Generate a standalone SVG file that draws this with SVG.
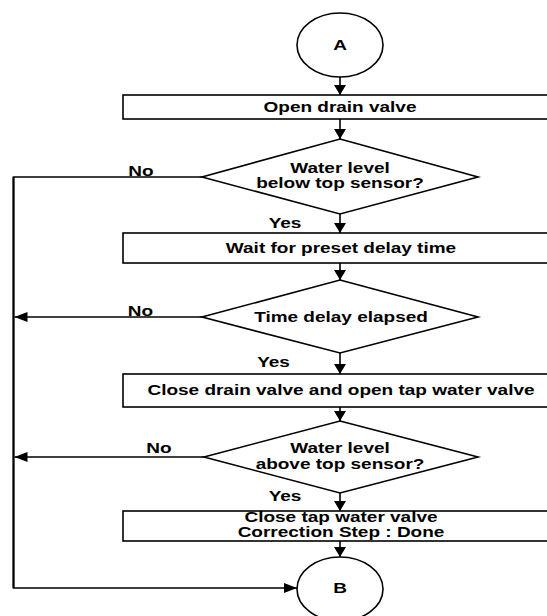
<svg xmlns="http://www.w3.org/2000/svg" width="547" height="616" viewBox="0 0 547 616">
<style>
.shape{fill:#fff;stroke:#000;stroke-width:1.6}
.conn{fill:none;stroke:#000;stroke-width:1.6}
.t{font-family:"Liberation Sans",Arial,sans-serif;font-weight:bold;font-size:14px;fill:#000;text-anchor:middle}
</style>
<defs>
<marker id="av" markerUnits="userSpaceOnUse" markerWidth="12" markerHeight="12" viewBox="0 -6 10 12" refX="10" refY="0" orient="auto">
<path d="M0,-6 L10,0 L0,6 Z" fill="#000"/>
</marker>
<marker id="ah" markerUnits="userSpaceOnUse" markerWidth="14" markerHeight="10" viewBox="0 -5 13 10" refX="13" refY="0" orient="auto">
<path d="M0,-5 L13,0 L0,5 Z" fill="#000"/>
</marker>
</defs>
<rect width="547" height="616" fill="#fff"/>
<g id="connectors">
<line class="conn" x1="340" y1="77" x2="340" y2="95" marker-end="url(#av)"/>
<line class="conn" x1="340" y1="119" x2="340" y2="139" marker-end="url(#av)"/>
<line class="conn" x1="340" y1="214" x2="340" y2="233" marker-end="url(#av)"/>
<line class="conn" x1="340" y1="263" x2="340" y2="280" marker-end="url(#av)"/>
<line class="conn" x1="340" y1="353" x2="340" y2="374" marker-end="url(#av)"/>
<line class="conn" x1="340" y1="407" x2="340" y2="421" marker-end="url(#av)"/>
<line class="conn" x1="340" y1="493" x2="340" y2="511" marker-end="url(#av)"/>
<line class="conn" x1="340" y1="541" x2="340" y2="557" marker-end="url(#av)"/>
<path class="conn" d="M202,177 L13.5,177 L13.5,588 L297,588" marker-end="url(#ah)"/>
<line class="conn" x1="202" y1="317" x2="14.5" y2="317" marker-end="url(#ah)"/>
<line class="conn" x1="204" y1="457" x2="14.5" y2="457" marker-end="url(#ah)"/>
<line x1="13.5" y1="177" x2="13.5" y2="588" stroke="#000" stroke-width="2"/>
<text class="t" transform="translate(141 175.5) scale(1.357 1)">No</text>
<text class="t" transform="translate(140.5 315.5) scale(1.357 1)">No</text>
<text class="t" transform="translate(159 452.5) scale(1.357 1)">No</text>
<text class="t" transform="translate(285 227.5) scale(1.357 1)">Yes</text>
<text class="t" transform="translate(273.5 367) scale(1.357 1)">Yes</text>
<text class="t" transform="translate(285 501) scale(1.357 1)">Yes</text>
</g>
<g id="startA">
<ellipse class="shape" cx="340" cy="45" rx="43" ry="32"/>
<text class="t" transform="translate(340 50) scale(1.357 1)">A</text>
</g>
<g id="openDrain">
<rect class="shape" x="123" y="95" width="440" height="24"/>
<text class="t" transform="translate(340 112) scale(1.357 1)">Open drain valve</text>
</g>
<g id="decision1">
<polygon class="shape" points="340,139 478,177 340,214 202,177"/>
<text class="t" transform="translate(340 173) scale(1.357 1)"><tspan x="0" y="0">Water level</tspan><tspan x="0" y="15">below top sensor?</tspan></text>
</g>
<g id="waitDelay">
<rect class="shape" x="123" y="233" width="440" height="30"/>
<text class="t" transform="translate(341 252.5) scale(1.357 1)">Wait for preset delay time</text>
</g>
<g id="decision2">
<polygon class="shape" points="340,280 478,317 340,353 202,317"/>
<text class="t" transform="translate(341 321.5) scale(1.357 1)">Time delay elapsed</text>
</g>
<g id="closeDrain">
<rect class="shape" x="123" y="374" width="440" height="33"/>
<text class="t" transform="translate(341 394.5) scale(1.357 1)">Close drain valve and open tap water valve</text>
</g>
<g id="decision3">
<polygon class="shape" points="340,421 478,457 340,493 204,457"/>
<text class="t" transform="translate(340 453) scale(1.357 1)"><tspan x="0" y="0">Water level</tspan><tspan x="0" y="16">above top sensor?</tspan></text>
</g>
<g id="closeTap">
<rect class="shape" x="123" y="511" width="440" height="30"/>
<text class="t" transform="translate(341 522) scale(1.357 1)"><tspan x="0" y="0">Close tap water valve</tspan><tspan x="0" y="15">Correction Step : Done</tspan></text>
</g>
<g id="endB">
<ellipse class="shape" cx="340" cy="589" rx="43" ry="32"/>
<text class="t" transform="translate(340 593) scale(1.357 1)">B</text>
</g>
</svg>
